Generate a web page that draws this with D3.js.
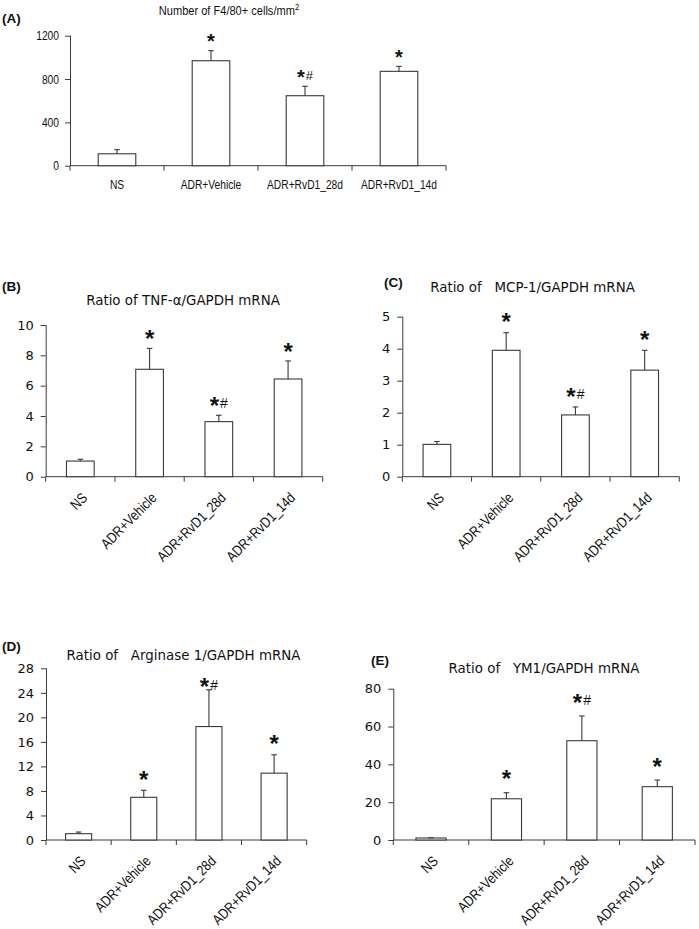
<!DOCTYPE html>
<html>
<head>
<meta charset="utf-8">
<script src="https://cdn.jsdelivr.net/npm/d3@7"></script>
<style>
  html, body { margin: 0; padding: 0; background: #fff; }
  svg { display: block; }
  text { white-space: pre; }
</style>
</head>
<body>
<svg id="chart" width="699" height="929"></svg>
<script>
// ---------------- DATA ----------------
const categories = ["NS", "ADR+Vehicle", "ADR+RvD1_28d", "ADR+RvD1_14d"];
const marks = ["", "*", "*#", "*"];

const f480Mean = [110, 969, 646, 871];
const f480Err  = [38, 93, 87, 46];
const f480Ticks = [0, 400, 800, 1200];

const tnfMean = [1.03, 7.08, 3.63, 6.44];
const tnfErr  = [0.12, 1.38, 0.42, 1.19];
const tnfTicks = [0, 2, 4, 6, 8, 10];

const mcpMean = [1.01, 3.95, 1.93, 3.33];
const mcpErr  = [0.09, 0.55, 0.25, 0.62];
const mcpTicks = [0, 1, 2, 3, 4, 5];

const argMean = [1.03, 6.96, 18.5, 10.9];
const argErr  = [0.27, 1.14, 6.0, 3.0];
const argTicks = [0, 4, 8, 12, 16, 20, 24, 28];

const ym1Mean = [1.06, 21.8, 52.5, 28.2];
const ym1Err  = [0.14, 3.2, 13.1, 3.5];
const ym1Ticks = [0, 20, 40, 60, 80];

// ---------------- LAYOUT ----------------
const svg = d3.select("#chart");
const INK = "#3a3a3a";
const sans = "'Liberation Sans', Arial, sans-serif";
const wide = "'DejaVu Sans', Verdana, sans-serif";
const NARROW = 0.82;   // horizontal squeeze to imitate a condensed face

const panels = [
  { id: "(A)", title: "Number of F4/80+ cells/mm", sup: "2", mean: f480Mean, err: f480Err, ticks: f480Ticks,
    x0: 70, x1: 446, yTop: 35.7, yBase: 165.7,
    labelX: 2, labelY: 23, titleX: 229, titleY: 15, titleFont: sans, titleSize: 13.5, titleSqueeze: NARROW,
    tickFont: sans, tickSize: 12.5, tickSqueeze: NARROW, tickPad: 6, rotate: false,
    starSize: 20, hashSize: 13, starGap: 14, starMin: 0 },
  { id: "(B)", title: "Ratio of TNF-α/GAPDH mRNA", mean: tnfMean, err: tnfErr, ticks: tnfTicks,
    x0: 45.7, x1: 322.7, yTop: 325, yBase: 476.7,
    labelX: 2, labelY: 291, titleX: 183, titleY: 305, titleFont: wide, titleSize: 13.4, titleSqueeze: 1,
    tickFont: wide, tickSize: 13, tickSqueeze: 1, tickPad: 7, rotate: true,
    starSize: 24, hashSize: 14, starGap: 15, starMin: 0 },
  { id: "(C)", title: "Ratio of   MCP-1/GAPDH mRNA", mean: mcpMean, err: mcpErr, ticks: mcpTicks,
    x0: 402.3, x1: 679.3, yTop: 316.7, yBase: 476.7,
    labelX: 384, labelY: 287, titleX: 532.5, titleY: 291.7, titleFont: wide, titleSize: 13.4, titleSqueeze: 1,
    tickFont: wide, tickSize: 13, tickSqueeze: 1, tickPad: 7, rotate: true,
    starSize: 24, hashSize: 14, starGap: 16, starMin: 0 },
  { id: "(D)", title: "Ratio of   Arginase 1/GAPDH mRNA", mean: argMean, err: argErr, ticks: argTicks,
    x0: 46, x1: 306.7, yTop: 668.3, yBase: 840,
    labelX: 2, labelY: 651, titleX: 183.5, titleY: 660, titleFont: wide, titleSize: 13.4, titleSqueeze: 1,
    tickFont: wide, tickSize: 13, tickSqueeze: 1, tickPad: 7, rotate: true,
    starSize: 24, hashSize: 14, starGap: 16, starMin: 13.4 },
  { id: "(E)", title: "Ratio of   YM1/GAPDH mRNA", mean: ym1Mean, err: ym1Err, ticks: ym1Ticks,
    x0: 393.3, x1: 695, yTop: 688.7, yBase: 840,
    labelX: 371, labelY: 665, titleX: 544, titleY: 673.3, titleFont: wide, titleSize: 13.4, titleSqueeze: 1,
    tickFont: wide, tickSize: 13, tickSqueeze: 1, tickPad: 7, rotate: true,
    starSize: 24, hashSize: 14, starGap: 19, starMin: 0 }
];

function drawPanel(p) {
  const g = svg.append("g");
  const x = d3.scaleBand().domain(categories).range([p.x0, p.x1]).padding(0);
  const y = d3.scaleLinear().domain([d3.min(p.ticks), d3.max(p.ticks)]).range([p.yBase, p.yTop]);
  const bw = x.bandwidth();

  // panel letter
  g.append("text").attr("x", p.labelX).attr("y", p.labelY)
    .attr("font-family", sans).attr("font-weight", "bold")
    .attr("font-size", 13.5).attr("fill", "#111").text(p.id);

  // title
  const t = g.append("text").attr("text-anchor", "middle")
    .attr("transform", `translate(${p.titleX},${p.titleY}) scale(${p.titleSqueeze},1)`)
    .attr("font-family", p.titleFont).attr("font-size", p.titleSize).attr("fill", "#111");
  t.append("tspan").text(p.title);
  if (p.sup) t.append("tspan").attr("font-size", p.titleSize * 0.7).attr("dy", -5).text(p.sup);

  // y axis
  const ya = d3.axisLeft(y).tickValues(p.ticks).tickSize(5).tickPadding(p.tickPad).tickFormat(d3.format("d"));
  const yg = g.append("g").attr("transform", `translate(${p.x0},0)`).call(ya);
  yg.select(".domain").attr("stroke", INK).attr("d", `M0.5,${p.yBase}V${p.yTop}`);
  yg.selectAll(".tick line").attr("stroke", INK);
  yg.selectAll(".tick text")
    .attr("x", null)
    .attr("transform", `translate(${-(5 + p.tickPad)},0) scale(${p.tickSqueeze},1)`)
    .attr("font-family", p.tickFont).attr("font-size", p.tickSize).attr("fill", "#111");

  // x axis line + boundary ticks
  const bounds = categories.map(c => x(c)).concat([p.x1]);
  g.append("line").attr("x1", p.x0).attr("x2", p.x1).attr("y1", p.yBase).attr("y2", p.yBase)
    .attr("stroke", INK);
  g.selectAll(".xt").data(bounds).join("line")
    .attr("x1", d => d).attr("x2", d => d).attr("y1", p.yBase).attr("y2", p.yBase + 5)
    .attr("stroke", INK);

  // bars
  const rows = categories.map((c, i) => ({ c, m: p.mean[i], e: p.err[i], mark: marks[i] }));
  g.selectAll(".bar").data(rows).join("rect")
    .attr("x", d => x(d.c) + bw * 0.3).attr("width", bw * 0.4)
    .attr("y", d => y(d.m)).attr("height", d => p.yBase - y(d.m))
    .attr("fill", "#fff").attr("stroke", INK).attr("stroke-width", 1.1);

  // error bars (upward only)
  const cx = d => x(d.c) + bw / 2;
  g.selectAll(".eb").data(rows).join("line")
    .attr("x1", cx).attr("x2", cx).attr("y1", d => y(d.m)).attr("y2", d => y(d.m + d.e))
    .attr("stroke", INK).attr("stroke-width", 1.1);
  g.selectAll(".ec").data(rows).join("line")
    .attr("x1", d => cx(d) - 2.8).attr("x2", d => cx(d) + 2.8)
    .attr("y1", d => y(d.m + d.e)).attr("y2", d => y(d.m + d.e))
    .attr("stroke", INK).attr("stroke-width", 1.1);

  // significance marks
  const sm = g.selectAll(".sm").data(rows.filter(d => d.mark)).join("text")
    .attr("x", cx).attr("text-anchor", "middle")
    .attr("y", d => Math.max(y(d.m + d.e) - p.starGap, p.yTop + p.starMin) + 0.57 * p.starSize)
    .attr("font-family", sans).attr("fill", "#111");
  sm.append("tspan").attr("font-size", p.starSize).attr("font-weight", "bold").text("*");
  sm.filter(d => d.mark.includes("#")).append("tspan")
    .attr("font-size", p.hashSize).attr("dx", 1)
    .attr("dy", -0.57 * p.starSize + 0.4 * p.hashSize + 2.5).text("#");

  // category labels
  const lab = g.selectAll(".xl").data(rows).join("text")
    .attr("fill", "#111").attr("font-family", sans).text(d => d.c);
  if (p.rotate) {
    lab.attr("text-anchor", "end").attr("font-size", 14.5)
      .attr("transform", d => `translate(${cx(d) + 8},${p.yBase + 22}) rotate(-45) scale(0.84,1)`);
  } else {
    lab.attr("text-anchor", "middle").attr("font-size", 12.5)
      .attr("transform", d => `translate(${cx(d)},${p.yBase + 23}) scale(${NARROW},1)`);
  }
}

panels.forEach(drawPanel);
</script>
</body>
</html>
